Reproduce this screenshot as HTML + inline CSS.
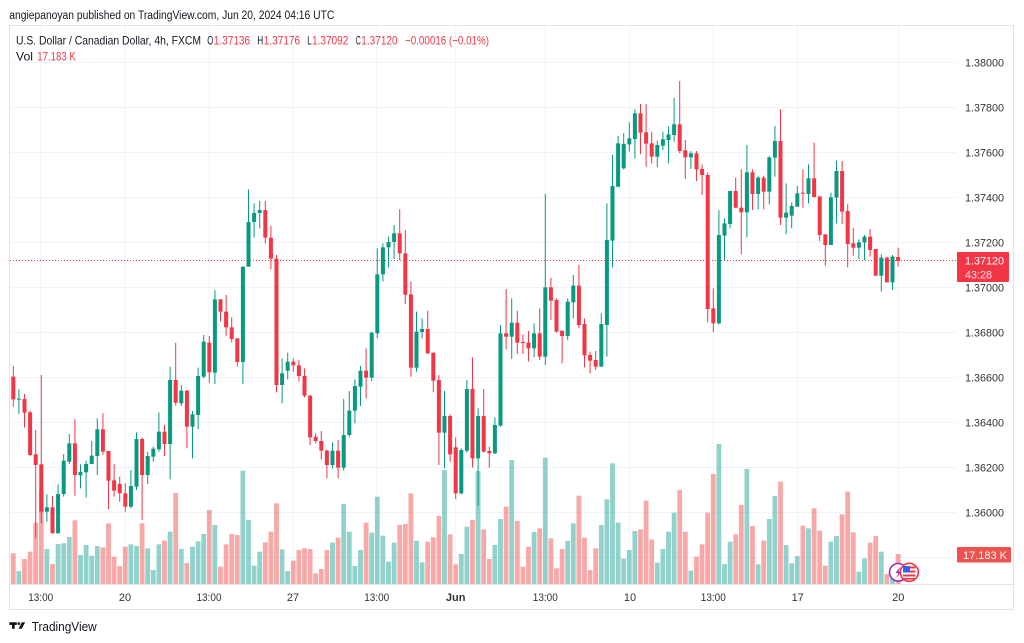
<!DOCTYPE html>
<html><head><meta charset="utf-8"><style>
html,body{margin:0;padding:0;background:#fff;}
body{width:1024px;height:643px;overflow:hidden;}
svg{display:block;font-family:"Liberation Sans",sans-serif;}
</style></head><body>
<svg id="s" width="1024" height="643" viewBox="0 0 1024 643" xmlns="http://www.w3.org/2000/svg">
<rect x="0" y="0" width="1024" height="643" fill="#fff"/>
<text x="9.3" y="19" font-size="11.5" fill="#131722" textLength="325" lengthAdjust="spacingAndGlyphs">angiepanoyan published on TradingView.com, Jun 20, 2024 04:16 UTC</text>
<!-- frame -->
<rect x="9.5" y="25.5" width="1004" height="584" fill="#fff" stroke="#e0e3eb" stroke-width="1"/>
<g id="grid" stroke="#f0f3fa" stroke-width="1"></g>
<line x1="9.5" y1="584.5" x2="1013.5" y2="584.5" stroke="#e0e3eb" stroke-width="1"/>
<g id="vol"></g>
<line x1="10" y1="260.5" x2="957" y2="260.5" stroke="#f23645" stroke-width="1" stroke-dasharray="1,2"/>
<g id="cdl"></g>
<!-- legend -->
<text y="44.5" font-size="12" fill="#131722">
<tspan x="16" textLength="185" lengthAdjust="spacingAndGlyphs">U.S. Dollar / Canadian Dollar, 4h, FXCM</tspan>
</text>
<text y="44.5" font-size="12" fill="#131722"><tspan x="207.3" textLength="6" lengthAdjust="spacingAndGlyphs">O</tspan></text>
<text y="44.5" font-size="12" fill="#f23645"><tspan x="213.8" textLength="36.3" lengthAdjust="spacingAndGlyphs">1.37136</tspan></text>
<text y="44.5" font-size="12" fill="#131722"><tspan x="257.3" textLength="6" lengthAdjust="spacingAndGlyphs">H</tspan></text>
<text y="44.5" font-size="12" fill="#f23645"><tspan x="263.8" textLength="36.3" lengthAdjust="spacingAndGlyphs">1.37176</tspan></text>
<text y="44.5" font-size="12" fill="#131722"><tspan x="307.3" textLength="4.4" lengthAdjust="spacingAndGlyphs">L</tspan></text>
<text y="44.5" font-size="12" fill="#f23645"><tspan x="312" textLength="36.3" lengthAdjust="spacingAndGlyphs">1.37092</tspan></text>
<text y="44.5" font-size="12" fill="#131722"><tspan x="355.8" textLength="5" lengthAdjust="spacingAndGlyphs">C</tspan></text>
<text y="44.5" font-size="12" fill="#f23645"><tspan x="361.3" textLength="36.3" lengthAdjust="spacingAndGlyphs">1.37120</tspan></text>
<text y="44.5" font-size="12" fill="#f23645"><tspan x="405" textLength="84" lengthAdjust="spacingAndGlyphs">−0.00016 (−0.01%)</tspan></text>
<text y="60.5" font-size="12" fill="#131722"><tspan x="16" textLength="17" lengthAdjust="spacingAndGlyphs">Vol</tspan></text>
<text y="60.5" font-size="12" fill="#f23645"><tspan x="37.3" textLength="38.5" lengthAdjust="spacingAndGlyphs">17.183 K</tspan></text>
<g id="ptxt" font-size="11" fill="#333"></g>
<g id="ttxt" font-size="11" fill="#333" text-anchor="middle"></g>
<!-- price label -->
<rect x="957" y="252" width="52" height="30" rx="1" fill="#f23645"/>
<text x="965" y="264.5" font-size="11" fill="#fff" textLength="39" lengthAdjust="spacingAndGlyphs">1.37120</text>
<text x="965" y="278.3" font-size="11" fill="#fde0e2" textLength="27" lengthAdjust="spacingAndGlyphs">43:28</text>
<!-- volume label -->
<rect x="957" y="547" width="54" height="15.5" rx="1" fill="#ef5350"/>
<text x="963" y="558.8" font-size="11" fill="#fff" textLength="44" lengthAdjust="spacingAndGlyphs">17.183 K</text>
<!-- icons -->
<circle cx="898.3" cy="572.3" r="8.8" fill="#fff" stroke="#9c27b0" stroke-width="1.6"/>
<path d="M900.5 566.5 L895.5 573 L898.5 573 L896 578.5 L901.5 571.5 L898.5 571.5 Z" fill="#9c27b0"/>
<circle cx="909.3" cy="572.3" r="9" fill="#fff" stroke="#f23645" stroke-width="1.6"/>
<rect x="903" y="566.5" width="12.5" height="2" fill="#f23645"/>
<rect x="903" y="570.5" width="12.5" height="2" fill="#f23645"/>
<rect x="903" y="574.5" width="12.5" height="2" fill="#f23645"/>
<rect x="903" y="578" width="12.5" height="1.5" fill="#f23645"/>
<rect x="903" y="566" width="7" height="6.5" fill="#2962ff"/>
<!-- TradingView logo -->
<rect x="9.3" y="622.3" width="7.5" height="2.6" fill="#131722"/>
<rect x="12" y="622.3" width="2.7" height="6.5" fill="#131722"/>
<circle cx="18.8" cy="623.6" r="1.35" fill="#131722"/>
<polygon points="21.8,622.3 25.2,622.3 21.8,628.8 18.6,628.8" fill="#131722"/>
<text x="31.7" y="630.8" font-size="12.5" fill="#131722" textLength="65" lengthAdjust="spacingAndGlyphs">TradingView</text>
</svg>
<script>
(function(){
var NS="http://www.w3.org/2000/svg";
function el(p,t,a,txt){var e=document.createElementNS(NS,t);for(var k in a)e.setAttribute(k,a[k]);if(txt!==undefined)e.textContent=txt;p.appendChild(e);return e;}
var grid=document.getElementById("grid");
var prices=["1.38000","1.37800","1.37600","1.37400","1.37200","1.37000","1.36800","1.36600","1.36400","1.36200","1.36000",""];
var pt=document.getElementById("ptxt");
for(var k=0;k<12;k++){
  var y=62.5+k*45;
  el(grid,"line",{x1:10,y1:y,x2:956,y2:y});
  if(prices[k]) el(pt,"text",{x:965,y:y+4,textLength:39,lengthAdjust:"spacingAndGlyphs"},prices[k]);
}
var tl=[[40.7,"13:00"],[125,"20"],[209,"13:00"],[293,"27"],[376.7,"13:00"],[455.7,"Jun"],[545.3,"13:00"],[630,"10"],[713.3,"13:00"],[797.7,"17"],[898.3,"20"]];
var tt=document.getElementById("ttxt");
tl.forEach(function(t){
  el(grid,"line",{x1:t[0],y1:26,x2:t[0],y2:584});
  var a={x:t[0],y:601};
  if(t[1]==="13:00"){a.textLength=25;a.lengthAdjust="spacingAndGlyphs";}
  if(t[1]==="Jun"){a["font-weight"]="bold";}
  el(tt,"text",a,t[1]);
});
var S=[
[340,0,"r,110,178,78,200,640;g,176,179,148,222,693;r,177,218,162,262,657;r,217,345,212,348,635;r,343,375,270,595,548;r,373,515,105,550,453;g,502,515,463,545,627;r,502,580,468,580,672;g,462,580,433,580,612;g,362,462,342,470,610;g,310,365,282,372,591;r,310,405,237,467,541;g,396,406,373,445,645;g,372,397,362,473,615;g,347,372,303,372,647;g,268,348,235,405,618;r,268,335,220,345,622;r,333,422,333,507,550;r,421,452,372,470,650;r,432,460,410,485,678;r,460,500,430,515,620;g,438,500,390,505,613;g,297,440,277,450,618;r,297,405,293,540,550;g,348,405,335,432,625;g,326,350,320,365,690;g,275,328,217,335,613;r,275,312,255,348,602;g,120,312,80,418,575;r,120,188,8,197,459;g,152,190,135,198,627;r,152,260,150,325,669;g,223,260,213,355,620;g,108,225,83,267,604;g,5,110,-15,115,582;r,8,97,-12,128,510"],
[180,36,"g,358,578,330,612,1035;r,358,395,358,425,1160;r,395,442,345,467,1093;r,442,477,412,487,1062;r,475,546,475,560,1065;g,260,546,260,612,872;g,126,260,28,260,1020;g,99,126,70,173,1157;g,90,99,63,145,1115;r,90,173,63,190,1087;r,173,236,137,268,1055;r,236,615,225,637,970;g,580,615,535,670,1108;g,545,572,518,598,1173;r,545,556,535,575,1142;r,556,588,540,605,1110;r,588,647,565,652,1105;r,647,772,645,795,1107;r,770,783,760,790,1180;r,783,812,753,838,1167;r,812,855,808,895,1110;g,812,855,787,865,1088;r,812,863,780,895,1073;g,765,863,657,872,972;g,692,765,633,772,1055;g,618,692,598,730,1158;g,572,620,558,678,1110;r,572,593,505,655,1028;g,458,593,455,603,1058;g,283,460,205,475,950;g,202,283,190,305,1067;g,186,202,170,262,1145;g,160,186,135,237,1088;r,160,220,88,240,1035;r,220,344,150,372,1032;r,343,563,305,590,940;g,455,563,395,575,1082;g,447,456,415,475,1147;r,447,520,392,522,1085;r,518,602,518,637,1072;r,600,758,585,855,1008"],
[80,77,"g,1008,1058,933,1165,1170;r,1008,1123,1003,1145,1363;r,1102,1240,1072,1257,1453;g,1110,1240,1105,1243,1422;g,927,1112,900,1118,1340;r,927,1135,832,1162,1320;g,1008,1135,985,1277,1173;r,1008,1115,927,1118,1348;r,1113,1120,1100,1163,1437;g,1035,1120,1012,1122,1395;g,760,1037,735,1040,1317;r,760,770,627,808,1280;g,728,770,655,837,1140;r,728,788,692,822,1323;r,786,789,763,822,1460;r,788,805,753,845,1400;g,760,805,730,832,1356;r,760,830,685,840,1345;g,622,830,342,855,1133;r,622,662,593,720,1375;r,660,755,655,758,1465;r,752,768,752,850,1407;g,665,768,655,780,1383;g,617,667,585,715,1330;r,617,735,555,745,1247;r,732,826,715,862,1373;r,825,842,815,880,1470;r,840,860,813,870,1405;g,732,860,700,860,1335;g,480,735,370,830,1258;g,318,482,225,562,1150;g,190,320,168,322,1328;g,192,265,160,268,1436;g,175,193,127,215,1410;g,100,177,88,235,1353;r,100,158,72,222,1348;r,157,191,72,260,1262;r,190,230,155,250,1378;g,195,230,182,262,1448;g,178,197,155,210,1407"],
[75,117,"g,178,195,155,265,1370;g,148,180,68,200,1313;r,148,228,18,235,1245;r,226,247,195,312,1370;g,235,247,228,282,1487;r,235,283,228,318,1445;r,282,300,268,360,1408;r,300,702,292,742,1313;r,700,745,640,772,1197;g,480,745,405,748,1107;g,445,482,430,555,1467;g,348,447,348,460,1400;r,348,398,308,400,1378;r,398,412,283,538,1290;g,292,412,210,487,1182;r,292,357,283,405,1353;g,308,357,302,403,1468;r,308,350,302,403,1397;g,247,350,243,388,1332;g,198,248,153,305,1263;r,198,428,102,450,1220;g,413,428,325,478,1410;g,393,422,382,460,1465;g,355,395,333,395,1443;r,353,356,283,398,1352;g,310,357,268,385,1360;r,310,366,203,368,1300;r,364,480,364,498,1367;r,478,510,478,572,1472;g,367,510,353,510,1400;g,288,368,257,445,1383;r,288,410,258,447,1318;r,408,507,388,577,1250;r,505,518,458,542,1372;g,502,518,493,553,1490;g,485,502,480,555,1450;r,485,525,462,545,1403;r,522,602,522,602,1383;g,548,602,538,650,1430;r,548,622,545,622,1497;g,545,622,540,645,1510;r,546,558,518,575,1437"]
];
var vg=document.getElementById("vol"), cg=document.getElementById("cdl");
var RED="#f23645", GRN="#089981", VR="rgba(239,83,80,0.5)", VG="rgba(38,166,154,0.5)";
S.forEach(function(sec){
  var oy=sec[0], i0=sec[1];
  sec[2].split(";").forEach(function(s,j){
    var p=s.split(","), i=i0+j, xc=13.3+i*5.6;
    var c=p[0]==="r", col=c?RED:GRN;
    var bt=oy+(+p[1])/3, bb=oy+(+p[2])/3, wt=oy+(+p[3])/3, wb=oy+(+p[4])/3, vt=oy+(+p[5])/3;
    el(vg,"rect",{x:(xc-2.4).toFixed(2),y:vt.toFixed(2),width:4.8,height:(584-vt).toFixed(2),fill:c?VR:VG});
    el(cg,"line",{x1:xc.toFixed(2),x2:xc.toFixed(2),y1:wt.toFixed(2),y2:wb.toFixed(2),stroke:col,"stroke-width":1});
    var h=Math.max(1,bb-bt);
    el(cg,"rect",{x:(xc-2).toFixed(2),y:bt.toFixed(2),width:4,height:h.toFixed(2),fill:col});
  });
});
})();
</script>
</body></html>
